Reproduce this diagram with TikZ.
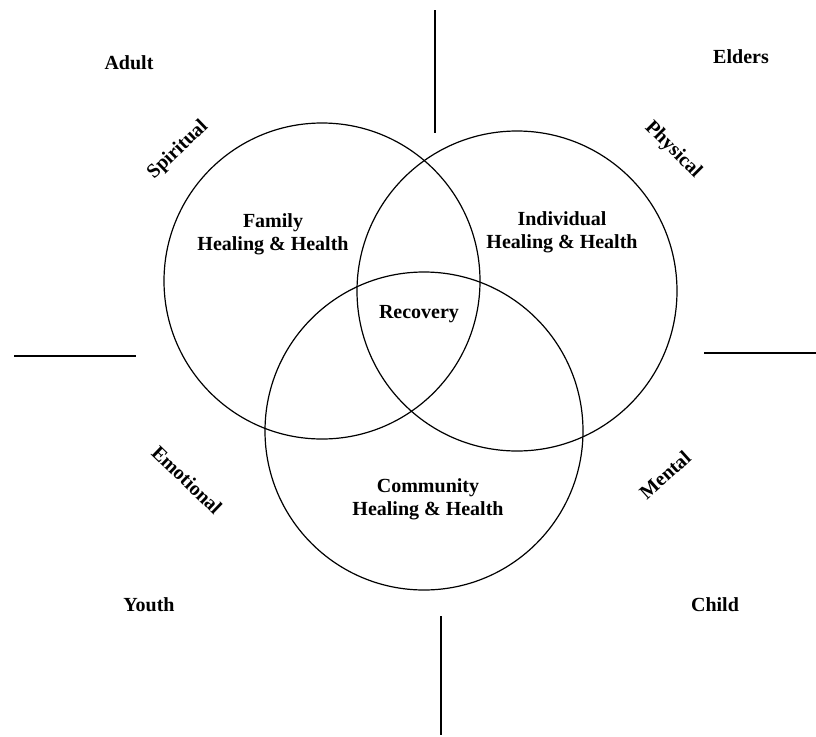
\documentclass[tikz,border=0pt]{standalone}
\usepackage{fontspec}
\setmainfont{Liberation Serif}
\begin{document}
\begin{tikzpicture}[x=1pt,y=-1pt,
  ring/.style={draw, circle, line width=1.2pt, inner sep=0pt, outer sep=0pt},
  lbl/.style={font=\fontsize{20}{23}\selectfont\bfseries, align=center, inner sep=0pt},
  divider/.style={line width=1.2pt}]
\useasboundingbox (0,0) rectangle (816,736);
% circles
\node[ring, minimum size=316pt] (fam) at (322,281) {};
\node[ring, minimum size=320pt] (ind) at (517,291) {};
\node[ring, minimum size=318pt] (com) at (424,431) {};
% dividers
\coordinate (t1) at (435,10);  \coordinate (t2) at (435,133);
\coordinate (b1) at (441,616); \coordinate (b2) at (441,735);
\coordinate (l1) at (14,356);  \coordinate (l2) at (136,356);
\coordinate (r1) at (704,353); \coordinate (r2) at (816,353);
\draw[divider] (t1) -- (t2);
\draw[divider] (b1) -- (b2);
\draw[divider] (l1) -- (l2);
\draw[divider] (r1) -- (r2);
% circle texts
\node[lbl] (famt) at (273,234) {Family\\Healing \& Health};
\node[lbl] (indt) at (562,232) {Individual\\Healing \& Health};
\node[lbl] (comt) at (428,499) {Community\\Healing \& Health};
\node[lbl] (rec) at (419,314) {Recovery};
% corner texts
\node[lbl] (adult) at (129,63) {Adult};
\node[lbl] (elders) at (741,57) {Elders};
\node[lbl] (youth) at (149,605) {Youth};
\node[lbl] (child) at (715,605) {Child};
% rotated texts
\node[lbl, rotate=44] (spi) at (178,150) {Spiritual};
\node[lbl, rotate=-45] (phy) at (673,150) {Physical};
\node[lbl, rotate=-44] (emo) at (187,480) {Emotional};
\node[lbl, rotate=42] (men) at (665,475) {Mental};
\end{tikzpicture}
\end{document}
